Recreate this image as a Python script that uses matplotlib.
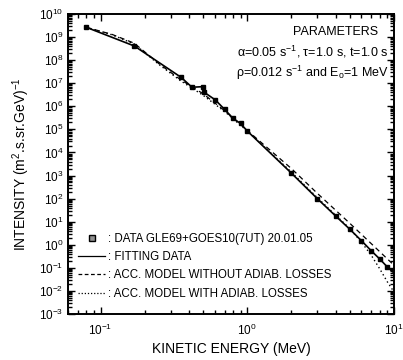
import matplotlib
matplotlib.use("Agg")
import matplotlib.pyplot as plt
from matplotlib.lines import Line2D
import numpy as np

plt.rcParams['font.family'] = ['Liberation Sans', 'DejaVu Sans']
plt.rcParams['mathtext.default'] = 'regular'

# measured data (GLE69 + GOES10)
energy = [0.08, 0.17, 0.354, 0.42, 0.50, 0.51, 0.605, 0.70, 0.80, 0.90, 1.0, 2.0, 3.0, 4.0, 5.0, 6.0, 7.0, 8.0, 9.0]
intensity = [2.65e9, 4.1e8, 1.8e7, 6.7e6, 7.1e6, 4.0e6, 1.9e6, 7.4e5, 3.0e5, 1.8e5, 8.5e4, 1.26e3, 1.0e2, 17.7, 4.7, 1.5, 0.55, 0.24, 0.11]

# fitting line
fit_energy = energy + [10.0]
fit_intensity = intensity + [0.06]

# acceleration model without adiabatic losses
noadiab_energy = [0.08, 0.12, 0.17, 0.25, 0.35, 0.5, 0.7, 1.0, 2.0, 3.0, 5.0, 10.0]
noadiab_intensity = [2.65e9, 1.3e9, 5.4e8, 7e7, 1.45e7, 3.5e6, 6.5e5, 9e4, 2e3, 1.7e2, 8.5, 0.13]

# acceleration model with adiabatic losses
adiab_energy = [0.08, 0.12, 0.17, 0.25, 0.35, 0.5, 0.7, 1.0, 2.0, 3.0, 5.0, 6.0, 7.0, 8.0, 9.0, 10.0]
adiab_intensity = [2.65e9, 1.25e9, 5e8, 6.5e7, 1.3e7, 3e6, 6e5, 8.5e4, 1.4e3, 1.1e2, 5.0, 1.3, 0.35, 0.09, 0.025, 0.009]

legend_labels = [": DATA GLE69+GOES10(7UT) 20.01.05",
                 ": FITTING DATA",
                 ": ACC. MODEL WITHOUT ADIAB. LOSSES",
                 ": ACC. MODEL WITH ADIAB. LOSSES"]

fig = plt.figure(figsize=(4.03, 3.6), dpi=100)
ax = fig.add_axes([68/403, 46/360, 326/403, 300/360])

ax.plot(fit_energy, fit_intensity, c="black", lw=1.2, zorder=3)
ax.plot(noadiab_energy, noadiab_intensity, c="black", lw=0.9, ls=(0, (4, 3)), zorder=2)
ax.plot(adiab_energy, adiab_intensity, c="black", lw=1.0, ls=(0, (1, 2)), zorder=2)
ax.plot(energy, intensity, ls="none", marker="s", ms=3.5, mfc="black", mec="black", zorder=4)

ax.set_xscale("log")
ax.set_yscale("log")
ax.set_xlim(0.06, 10)
ax.set_ylim(1e-3, 1e10)
ax.set_yticks([10.0**k for k in range(-3, 11)])
ax.set_yticklabels([r"$10^{%d}$" % k for k in range(-3, 11)])
ax.set_xticks([0.1, 1, 10])
ax.set_xticklabels([r"$10^{-1}$", r"$10^{0}$", r"$10^{1}$"])
ax.yaxis.set_minor_locator(matplotlib.ticker.LogLocator(base=10, subs=np.arange(2, 10), numticks=100))
ax.yaxis.set_minor_formatter(matplotlib.ticker.NullFormatter())
ax.tick_params(which="both", direction="in", top=True, right=True, labelsize=8.5, width=1.0)
ax.tick_params(which="major", length=5)
ax.tick_params(which="minor", length=3)
ax.tick_params(axis="x", pad=6)
for sp in ax.spines.values():
    sp.set_linewidth(1.4)

ax.set_xlabel("KINETIC ENERGY (MeV)", fontsize=10, labelpad=3)
ax.set_ylabel(r"INTENSITY (m$^{2}$.s.sr.GeV)$^{-1}$", fontsize=10, labelpad=5)

# parameters text
ax.text(0.82, 0.94, "PARAMETERS", transform=ax.transAxes, ha="center", va="center", fontsize=9)
ax.text(0.985, 0.873, r"$\alpha$=0.05 s$^{-1}$, $\tau$=1.0 s, t=1.0 s", transform=ax.transAxes,
        ha="right", va="center", fontsize=9)
ax.text(0.985, 0.803, r"$\rho$=0.012 s$^{-1}$ and E$_{o}$=1 MeV", transform=ax.transAxes,
        ha="right", va="center", fontsize=9)

handles = [Line2D([], [], ls="none", marker="s", ms=4, mfc="#909090", mec="black"),
           Line2D([], [], c="black", lw=0.9),
           Line2D([], [], c="black", lw=0.9, ls=(0, (3, 2))),
           Line2D([], [], c="black", lw=0.9, ls=(0, (1, 1.5)))]
ax.legend(handles, legend_labels, loc="lower left", bbox_to_anchor=(0.03, 0.048), frameon=False,
          fontsize=8.3, handlelength=2.4, handletextpad=0.25, labelspacing=0.55,
          borderpad=0, borderaxespad=0)

plt.savefig("out.png", dpi=100)
